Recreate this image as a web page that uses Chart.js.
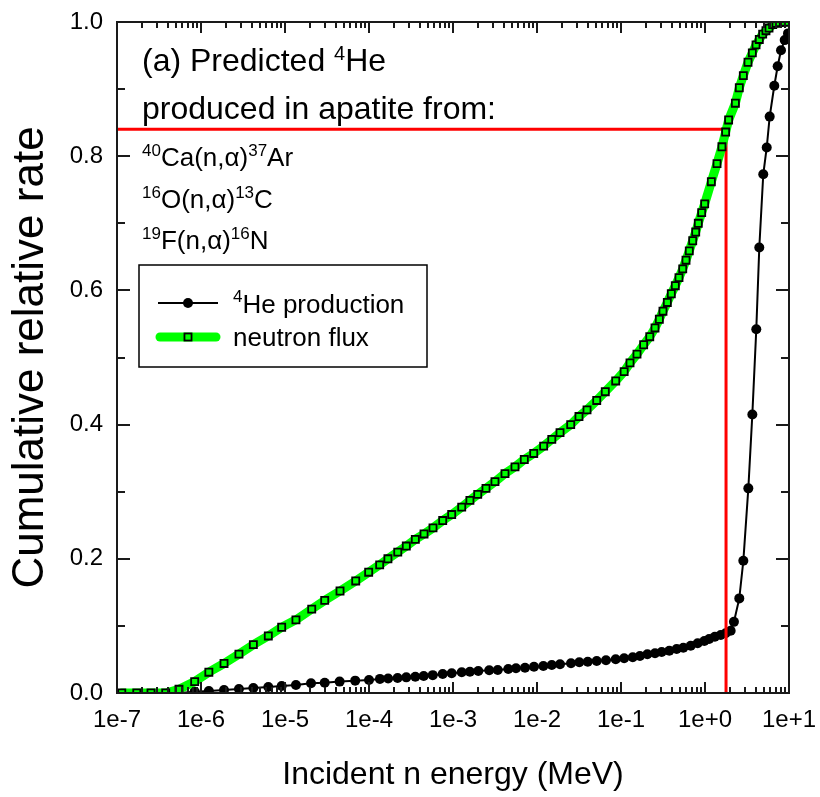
<!DOCTYPE html>
<html>
<head>
<meta charset="utf-8">
<script src="https://cdn.jsdelivr.net/npm/chart.js@4.4.1/dist/chart.umd.min.js"></script>
<style>
  html, body { margin: 0; padding: 0; background: #ffffff; }
  canvas { display: block; }
</style>
</head>
<body>
<canvas id="chart" width="820" height="797"></canvas>
<script>
// Cumulative neutron flux vs. incident energy (MeV)
const fluxEnergy = [1.14e-7, 1.72e-7, 2.54e-7, 3.80e-7, 5.47e-7, 8.41e-7, 1.24e-6, 1.88e-6, 2.83e-6, 4.20e-6, 6.33e-6, 9.13e-6,
  1.35e-5, 2.08e-5, 2.97e-5, 4.52e-5, 6.95e-5, 9.91e-5, 1.34e-4, 1.68e-4, 2.20e-4, 2.78e-4, 3.56e-4, 4.52e-4, 5.78e-4, 7.54e-4, 9.65e-4,
  1.27e-3, 1.59e-3, 1.97e-3, 2.47e-3, 3.16e-3, 4.16e-3, 5.47e-3, 7.06e-3, 9.14e-3,
  1.20e-2, 1.50e-2, 1.88e-2, 2.52e-2, 3.16e-2, 3.94e-2, 5.14e-2, 6.50e-2, 8.65e-2,
  0.109, 0.128, 0.155, 0.186, 0.220, 0.254, 0.286, 0.316, 0.356, 0.397, 0.443, 0.490, 0.543, 0.594, 0.650, 0.714, 0.775, 0.832, 0.913, 0.991,
  1.19, 1.39, 1.59, 1.76, 1.91, 2.30, 2.56, 2.86, 3.25, 3.66, 4.05, 4.43, 4.86, 5.32, 5.78, 6.40, 7.00, 7.67, 8.55, 9.82];
const fluxCum = [0, 0, 0, 0, 0.0055, 0.017, 0.031, 0.044, 0.058, 0.072, 0.085, 0.098,
  0.109, 0.125, 0.138, 0.152, 0.167, 0.180, 0.191, 0.200, 0.210, 0.219, 0.229, 0.237, 0.246, 0.257, 0.266,
  0.277, 0.287, 0.296, 0.305, 0.315, 0.327, 0.337, 0.348, 0.357,
  0.368, 0.378, 0.388, 0.400, 0.412, 0.422, 0.436, 0.449, 0.465,
  0.479, 0.492, 0.505, 0.519, 0.531, 0.544, 0.557, 0.569, 0.582, 0.595, 0.607, 0.619, 0.632, 0.645, 0.659, 0.674, 0.687, 0.700, 0.716, 0.729,
  0.762, 0.789, 0.814, 0.836, 0.854, 0.879, 0.902, 0.920, 0.940, 0.954, 0.966, 0.974, 0.982, 0.987, 0.991, 0.996, 0.998, 0.999, 1.0, 1.0];

// Cumulative 4He production vs. incident energy (MeV)
const heEnergy = [5.47e-7, 8.41e-7, 1.24e-6, 1.88e-6, 2.83e-6, 4.20e-6, 6.33e-6, 9.13e-6,
  1.35e-5, 2.04e-5, 2.97e-5, 4.47e-5, 6.85e-5, 1.00e-4, 1.35e-4, 1.69e-4, 2.19e-4, 2.78e-4, 3.56e-4, 4.48e-4, 5.74e-4, 7.54e-4, 9.65e-4,
  1.27e-3, 1.59e-3, 2.00e-3, 2.70e-3, 3.41e-3, 4.55e-3, 5.62e-3, 7.20e-3, 9.21e-3,
  1.19e-2, 1.50e-2, 1.88e-2, 2.54e-2, 3.19e-2, 4.02e-2, 5.14e-2, 6.63e-2, 8.65e-2,
  0.109, 0.138, 0.168, 0.206, 0.254, 0.305, 0.376, 0.460, 0.552, 0.676, 0.818, 0.982,
  1.12, 1.31, 1.54, 1.76, 2.02, 2.21, 2.56, 2.86, 3.28, 3.66, 4.08, 4.43, 4.94, 5.43, 5.89, 6.68, 7.33, 8.03, 8.89, 9.73];
const heCum = [0, 0.002, 0.003, 0.0045, 0.006, 0.0075, 0.009, 0.0104,
  0.012, 0.0144, 0.0154, 0.017, 0.0184, 0.0194, 0.021, 0.0215, 0.0224, 0.0233, 0.0243, 0.0253, 0.0266, 0.0283, 0.0294,
  0.0308, 0.0317, 0.0328, 0.0338, 0.0343, 0.0358, 0.0368, 0.0377, 0.0392,
  0.0402, 0.0417, 0.0428, 0.0443, 0.0458, 0.0466, 0.0477, 0.0487, 0.0502,
  0.0517, 0.0532, 0.0551, 0.0577, 0.0592, 0.0611, 0.0630, 0.0656, 0.0675, 0.0705, 0.0741, 0.0775,
  0.0805, 0.0839, 0.0864, 0.0890, 0.0928, 0.106, 0.141, 0.197, 0.305, 0.415, 0.542, 0.664, 0.773, 0.813, 0.859, 0.905, 0.934, 0.958, 0.973, 0.983];

// Energy at which the flux reaches the marked fraction
const markerEnergy = 1.78;
const markerFraction = 0.84;

// Axis ticks
const xDecades = [1e-7, 1e-6, 1e-5, 1e-4, 1e-3, 1e-2, 1e-1, 1e0, 1e1];
const xDecadeLabels = ['1e-7', '1e-6', '1e-5', '1e-4', '1e-3', '1e-2', '1e-1', '1e+0', '1e+1'];
const yTickValues = [0, 0.1, 0.2, 0.3, 0.4, 0.5, 0.6, 0.7, 0.8, 0.9, 1.0];
const yTickLabels = ['0.0', '', '0.2', '', '0.4', '', '0.6', '', '0.8', '', '1.0'];

const FONT = '"Liberation Sans", Arial, Helvetica, sans-serif';
const AXIS_COLOR = '#1a1a1a';

// minor log ticks: 2..9 times each decade
const xTickValues = [];
xDecades.forEach((d, i) => {
  if (i === xDecades.length - 1) { xTickValues.push(d); return; }
  for (let m = 1; m <= 9; m++) xTickValues.push(m * d);
});
const isDecade = v => Math.abs(Math.log10(v) - Math.round(Math.log10(v))) < 1e-6;
const decadeLabel = v => {
  const i = xDecades.findIndex(d => Math.abs(Math.log10(d) - Math.log10(v)) < 1e-6);
  return i >= 0 ? xDecadeLabels[i] : '';
};

// text with superscript runs
function drawRich(ctx, x, y, runs, size, supSize, rise) {
  ctx.textBaseline = 'alphabetic';
  ctx.textAlign = 'left';
  runs.forEach(r => {
    const sup = Array.isArray(r);
    const t = sup ? r[0] : r;
    ctx.font = (sup ? supSize : size) + 'px ' + FONT;
    ctx.fillText(t, x, sup ? y - rise : y);
    x += ctx.measureText(t).width;
  });
}

const notes = [
  { runs: ['(a) Predicted ', ['4'], 'He'], x: 142, y: 71, size: 32, sup: 20, rise: 11 },
  { runs: ['produced in apatite from:'], x: 142, y: 119, size: 32, sup: 20, rise: 11 },
  { runs: [['40'], 'Ca(n,\u03b1)', ['37'], 'Ar'], x: 142, y: 166, size: 26, sup: 17, rise: 10 },
  { runs: [['16'], 'O(n,\u03b1)', ['13'], 'C'], x: 142, y: 208, size: 26, sup: 17, rise: 10 },
  { runs: [['19'], 'F(n,\u03b1)', ['16'], 'N'], x: 142, y: 249, size: 26, sup: 17, rise: 10 }
];

const frameAndTicks = {
  id: 'frameAndTicks',
  afterDatasetsDraw(chart) {
    const { ctx, chartArea: a, scales: { x, y } } = chart;
    ctx.save();
    ctx.strokeStyle = AXIS_COLOR;
    ctx.lineWidth = 2;
    ctx.beginPath();
    x.ticks.forEach(t => {
      const px = Math.round(x.getPixelForValue(t.value));
      const len = isDecade(t.value) ? 11 : 6;
      ctx.moveTo(px, a.bottom); ctx.lineTo(px, a.bottom - len);
      ctx.moveTo(px, a.top); ctx.lineTo(px, a.top + len);
    });
    y.ticks.forEach(t => {
      const py = Math.round(y.getPixelForValue(t.value));
      const len = Math.round(t.value * 10) % 2 === 0 ? 13 : 8;
      ctx.moveTo(a.left, py); ctx.lineTo(a.left + len, py);
      ctx.moveTo(a.right, py); ctx.lineTo(a.right - len, py);
    });
    ctx.stroke();
    ctx.strokeRect(a.left, a.top, a.right - a.left, a.bottom - a.top);
    ctx.restore();
  },
  afterDraw(chart) {
    const { ctx } = chart;
    ctx.save();
    ctx.fillStyle = '#000000';
    notes.forEach(n => drawRich(ctx, n.x, n.y, n.runs, n.size, n.sup, n.rise));

    // legend box
    const box = { left: 139, top: 265, right: 427, bottom: 367 };
    ctx.strokeStyle = '#000000';
    ctx.lineWidth = 1.5;
    ctx.strokeRect(box.left, box.top, box.right - box.left, box.bottom - box.top);

    const he = chart.data.datasets[0];
    const fl = chart.data.datasets[2];
    const x0 = 158, x1 = 218, xm = 188;

    let yy = 303;
    ctx.strokeStyle = he.borderColor;
    ctx.lineWidth = he.borderWidth;
    ctx.beginPath(); ctx.moveTo(x0, yy); ctx.lineTo(x1, yy); ctx.stroke();
    ctx.fillStyle = he.pointBackgroundColor;
    ctx.beginPath(); ctx.arc(xm, yy, he.pointRadius, 0, Math.PI * 2); ctx.fill();
    ctx.fillStyle = '#000000';
    drawRich(ctx, 233, yy + 10, [['4'], 'He production'], 26, 17, 11);

    yy = 337;
    ctx.strokeStyle = fl.borderColor;
    ctx.lineWidth = fl.borderWidth;
    ctx.lineCap = 'round';
    ctx.beginPath(); ctx.moveTo(x0 + 2, yy); ctx.lineTo(x1 - 2, yy); ctx.stroke();
    const s = fl.pointRadius * Math.SQRT1_2;
    ctx.fillStyle = fl.pointBackgroundColor;
    ctx.fillRect(xm - s, yy - s, 2 * s, 2 * s);
    ctx.strokeStyle = fl.pointBorderColor;
    ctx.lineWidth = fl.pointBorderWidth;
    ctx.strokeRect(xm - s, yy - s, 2 * s, 2 * s);
    ctx.fillStyle = '#000000';
    drawRich(ctx, 233, yy + 9, ['neutron flux'], 26, 17, 11);
    ctx.restore();
  }
};

const toPoints = (xs, ys) => xs.map((v, i) => ({ x: v, y: ys[i] }));

new Chart(document.getElementById('chart'), {
  type: 'line',
  data: {
    datasets: [
      {
        label: '4He production',
        data: toPoints(heEnergy, heCum),
        borderColor: '#000000',
        borderWidth: 2,
        pointRadius: 5,
        pointStyle: 'circle',
        pointBackgroundColor: '#000000',
        pointBorderColor: '#000000',
        pointBorderWidth: 0,
        tension: 0,
        order: 3
      },
      {
        label: 'marker',
        data: [
          { x: xDecades[0], y: markerFraction },
          { x: markerEnergy, y: markerFraction },
          { x: markerEnergy, y: 0 }
        ],
        borderColor: '#ff0000',
        borderWidth: 3,
        pointRadius: 0,
        tension: 0,
        order: 2
      },
      {
        label: 'neutron flux',
        data: toPoints(fluxEnergy, fluxCum),
        borderColor: '#00ff00',
        borderWidth: 9,
        borderCapStyle: 'round',
        borderJoinStyle: 'round',
        pointRadius: 5,
        pointStyle: 'rect',
        pointBackgroundColor: '#00ff00',
        pointBorderColor: '#000000',
        pointBorderWidth: 1.8,
        tension: 0,
        order: 1
      }
    ]
  },
  options: {
    responsive: false,
    animation: false,
    devicePixelRatio: 1,
    layout: { padding: { left: 0, top: 22, right: 31, bottom: 0 } },
    plugins: { legend: { display: false }, tooltip: { enabled: false } },
    scales: {
      x: {
        type: 'logarithmic',
        min: xDecades[0],
        max: xDecades[xDecades.length - 1],
        afterBuildTicks: s => { s.ticks = xTickValues.map(v => ({ value: v })); },
        afterFit: s => { s.height = 104; },
        grid: { display: false, drawTicks: true, tickLength: 13 },
        border: { display: false },
        ticks: {
          autoSkip: false,
          maxRotation: 0,
          padding: 0,
          color: '#000000',
          font: { family: FONT, size: 24 },
          callback: v => decadeLabel(v)
        },
        title: {
          display: true,
          text: 'Incident n energy (MeV)',
          color: '#000000',
          font: { family: FONT, size: 32 },
          padding: { top: 0, bottom: 3 }
        }
      },
      y: {
        min: 0,
        max: 1,
        afterBuildTicks: s => { s.ticks = yTickValues.map(v => ({ value: v })); },
        afterFit: s => { s.width = 117; },
        grid: { display: false, drawTicks: true, tickLength: 14 },
        border: { display: false },
        ticks: {
          autoSkip: false,
          padding: 0,
          color: '#000000',
          font: { family: FONT, size: 24 },
          callback: (v, i) => yTickLabels[i]
        },
        title: {
          display: true,
          text: 'Cumulative relative rate',
          color: '#000000',
          font: { family: FONT, size: 44 },
          padding: { top: 4, bottom: 0 }
        }
      }
    }
  },
  plugins: [frameAndTicks]
});
</script>
</body>
</html>
